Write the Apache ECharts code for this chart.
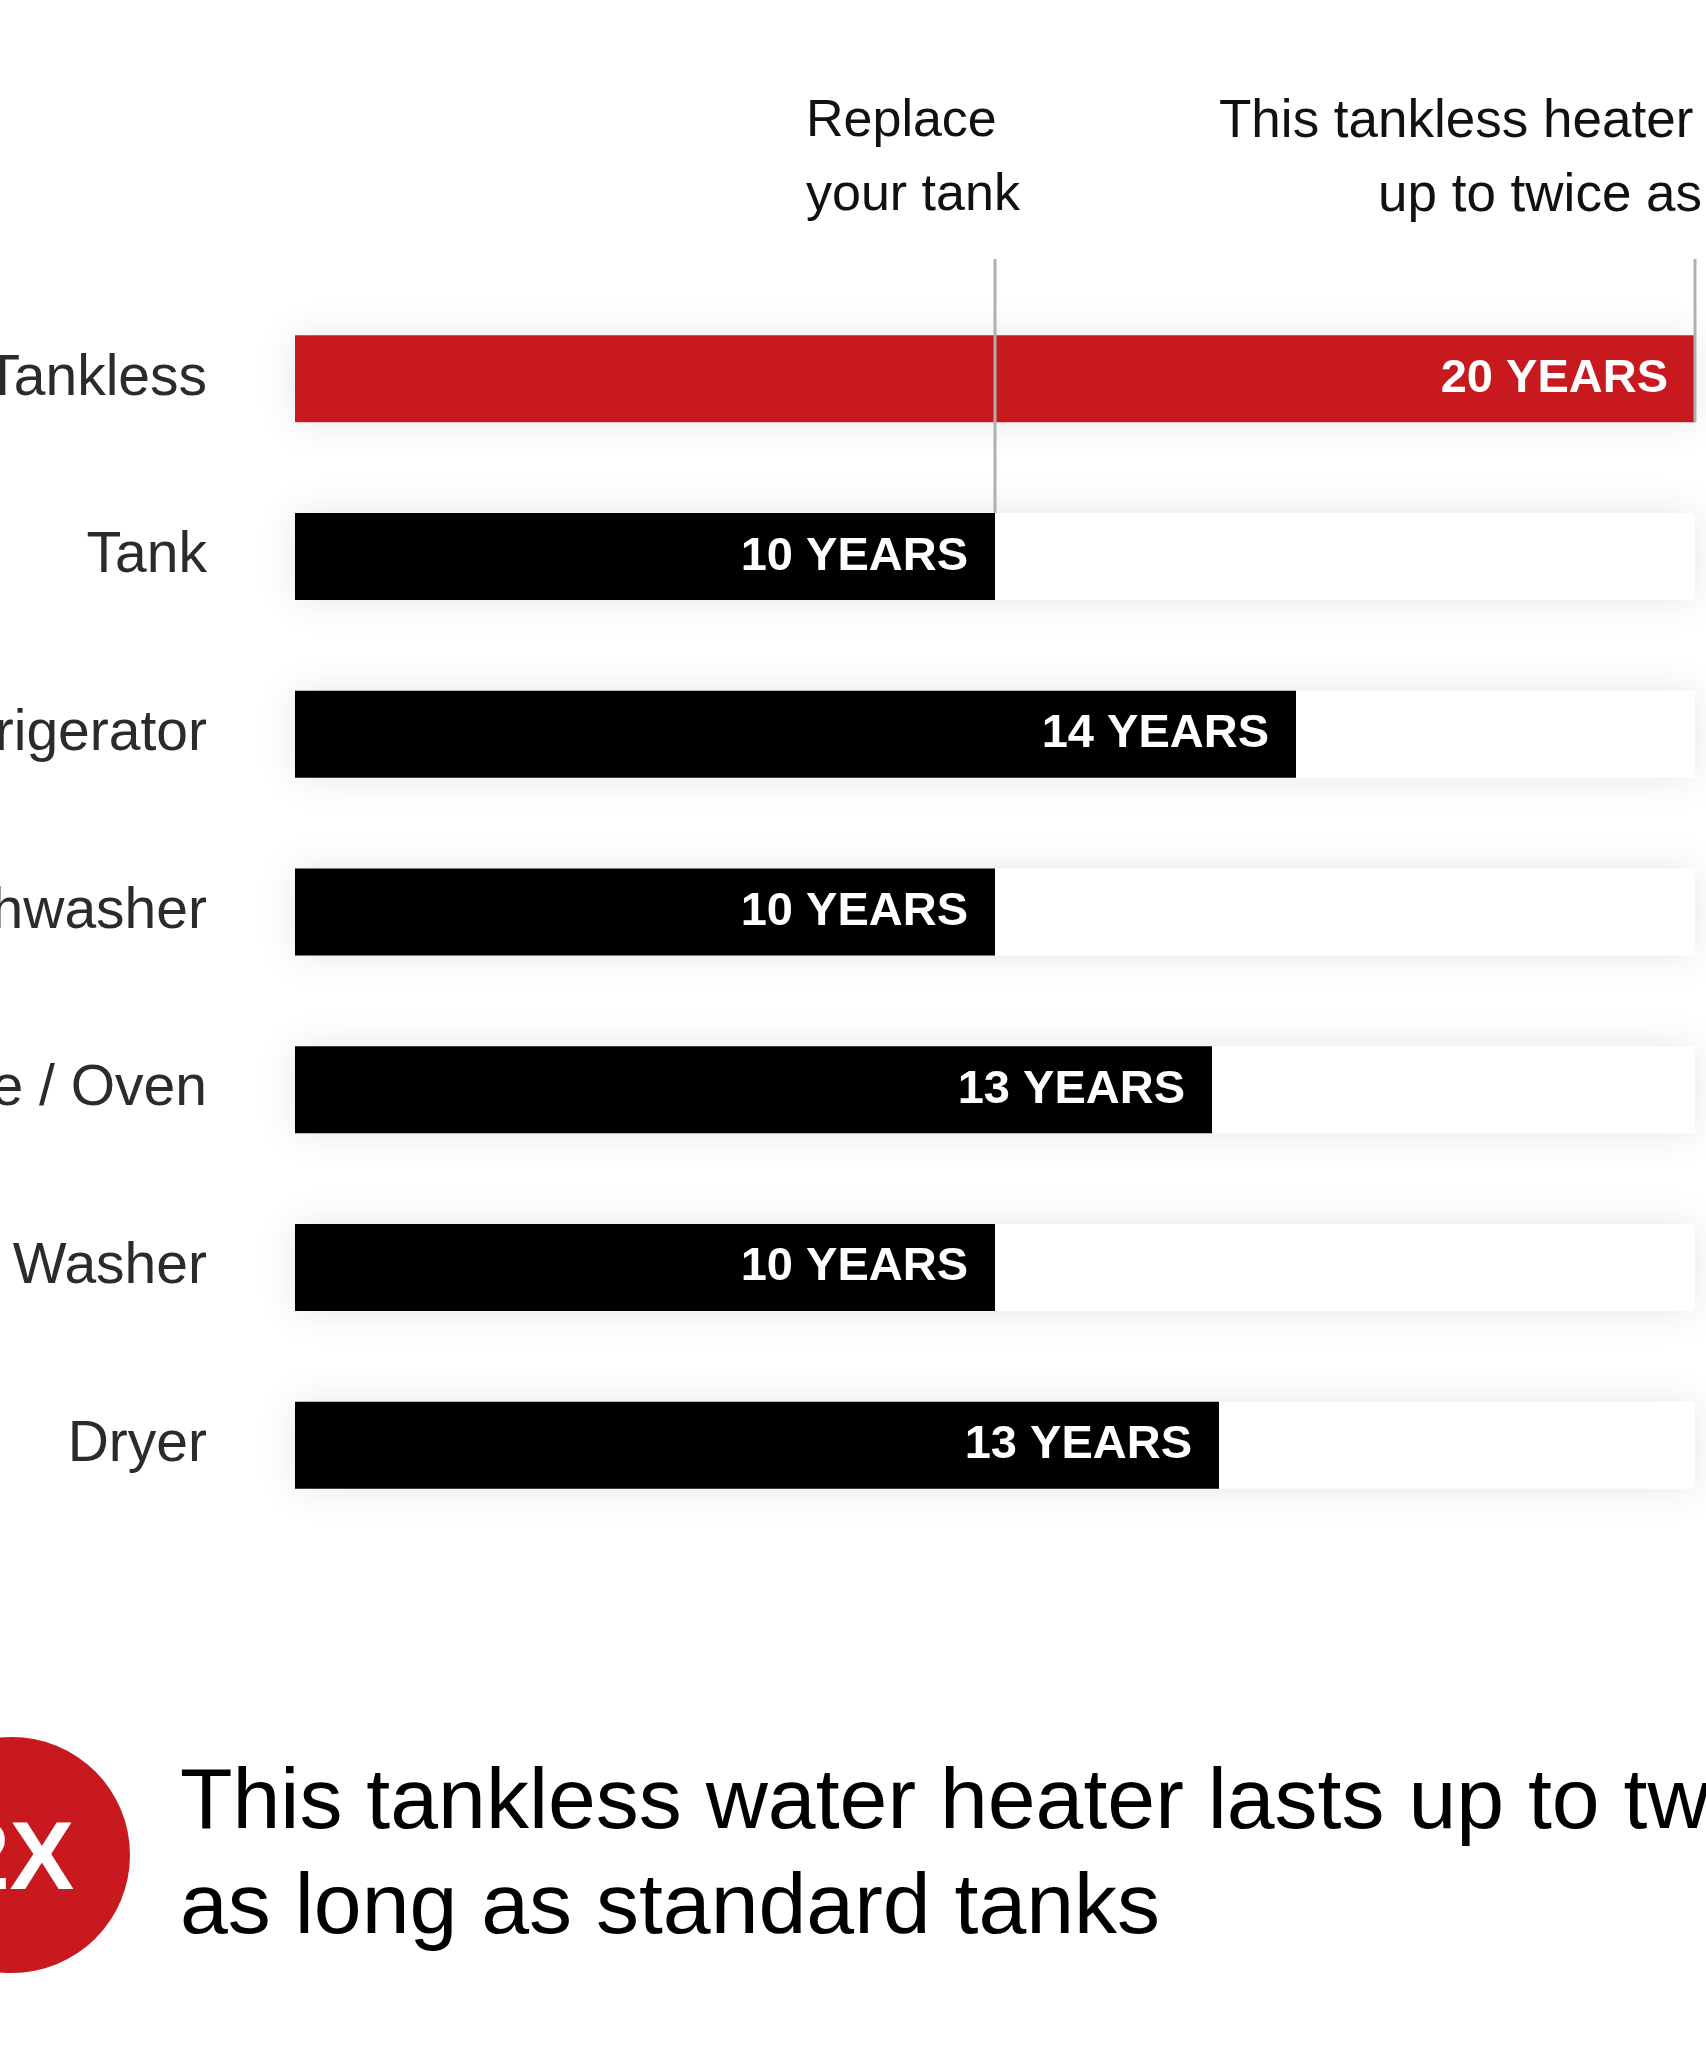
<!DOCTYPE html>
<html>
<head>
<meta charset="utf-8">
<script src="https://cdn.jsdelivr.net/npm/echarts@6/dist/echarts.min.js"></script>
<style>
  html, body { margin: 0; padding: 0; background: #ffffff; }
  #chart { width: 1706px; height: 2048px; }
</style>
</head>
<body>
<div id="chart"></div>
<script>
// ---- data ----
const categories = ['Tankless', 'Tank', 'Refrigerator', 'Dishwasher', 'Range / Oven', 'Washer', 'Dryer'];
const lifespanYears = [20, 10, 14, 10, 13, 10, 13];          // values printed in the bars
const barLengthYears = [20, 10, 14.3, 10, 13.1, 10, 13.2];   // bar lengths as drawn
const refLineYears = [10, 20];       // "Replace your tank" and "twice as long" markers
const refLineEndRow = [1, 0];        // row where each marker line stops
const refLineEndSide = [-1, 1];      // -1: stops at top of that bar, 1: at its bottom
const headerLeft = ['Replace', 'your tank'];
const headerRight = ['This tankless heater', 'up to twice as'];
const footerLines = ['This tankless water heater lasts up to twice', 'as long as standard tanks'];
const badgeText = '2X';

const RED = '#c8191f';
const BAR_W = 87;
const LINE_TOP = 259;
const FONT = 'Liberation Sans, Arial, sans-serif';

const chart = echarts.init(document.getElementById('chart'));

const barData = barLengthYears.map((v, i) => ({
  value: v,
  itemStyle: { color: i === 0 ? RED : '#000000' }
}));

const refData = refLineYears.map((v, i) => [v, refLineEndRow[i], refLineEndSide[i]]);

chart.setOption({
  animation: false,
  backgroundColor: '#ffffff',
  grid: { left: 295, right: 11, top: 290, bottom: 514, containLabel: false, outerBoundsMode: 'none' },
  xAxis: {
    type: 'value', min: 0, max: 20, show: false
  },
  yAxis: {
    type: 'category',
    inverse: true,
    data: categories,
    axisLine: { show: false },
    axisTick: { show: false },
    splitLine: { show: false },
    axisLabel: {
      margin: 88,
      fontSize: 57,
      color: '#2b2b2b',
      fontFamily: FONT
    }
  },
  series: [
    {
      type: 'bar',
      data: barData,
      barWidth: BAR_W,
      showBackground: true,
      backgroundStyle: {
        color: '#ffffff',
        shadowBlur: 40,
        shadowColor: 'rgba(0,0,0,0.10)'
      },
      label: {
        show: true,
        position: 'insideRight',
        distance: 27,
        color: '#ffffff',
        fontSize: 47,
        fontWeight: 'bold',
        fontFamily: FONT,
        formatter: p => lifespanYears[p.dataIndex] + ' YEARS'
      },
      z: 2
    },
    {
      type: 'custom',
      data: refData,
      encode: { x: 0, y: 1 },
      clip: false,
      z: 5,
      silent: true,
      renderItem: function (params, api) {
        const pt = api.coord([api.value(0), api.value(1)]);
        const yEnd = pt[1] + api.value(2) * BAR_W / 2;
        return {
          type: 'line',
          shape: { x1: pt[0], y1: LINE_TOP, x2: pt[0], y2: yEnd },
          style: { stroke: '#b0b0b0', lineWidth: 3 }
        };
      }
    }
  ],
  graphic: [
    { type: 'text', x: 806, y: 122, style: { text: headerLeft[0], fontSize: 52, fill: '#111', fontFamily: FONT, verticalAlign: 'middle' } },
    { type: 'text', x: 806, y: 196, style: { text: headerLeft[1], fontSize: 52, fill: '#111', fontFamily: FONT, verticalAlign: 'middle' } },
    { type: 'text', x: 1219, y: 122, style: { text: headerRight[0], fontSize: 53, fill: '#111', fontFamily: FONT, verticalAlign: 'middle' } },
    { type: 'text', x: 1378, y: 196, style: { text: headerRight[1], fontSize: 53, fill: '#111', fontFamily: FONT, verticalAlign: 'middle' } },
    { type: 'circle', shape: { cx: 12, cy: 1855, r: 118 }, style: { fill: RED } },
    { type: 'text', x: 15, y: 1862, style: { text: badgeText, fontSize: 97, fontWeight: 'bold', fill: '#ffffff', fontFamily: FONT, align: 'center', verticalAlign: 'middle' } },
    { type: 'text', x: 180, y: 1804, style: { text: footerLines[0], fontSize: 86, fill: '#000', fontFamily: FONT, verticalAlign: 'middle' } },
    { type: 'text', x: 180, y: 1909, style: { text: footerLines[1], fontSize: 86, fill: '#000', fontFamily: FONT, verticalAlign: 'middle' } }
  ]
});
</script>
</body>
</html>
